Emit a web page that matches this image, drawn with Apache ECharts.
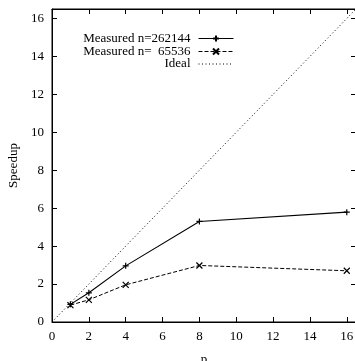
<!DOCTYPE html>
<html>
<head>
<meta charset="utf-8">
<script src="https://cdn.jsdelivr.net/npm/echarts@6/dist/echarts.min.js"></script>
<style>
html,body{margin:0;padding:0;background:#fff;}
#chart{width:355px;height:361px;}
</style>
</head>
<body>
<div id="chart"></div>
<script>
const pValues = [1, 2, 4, 8, 16];
const speedupLarge = [0.93, 1.54, 2.96, 5.3, 5.79];
const speedupSmall = [0.89, 1.17, 1.96, 2.98, 2.7];
const idealP = [0, 17];
const idealSpeedup = [0, 17];
const seriesNames = ['Measured n=262144', 'Measured n=  65536', 'Ideal'];
const xAxisTitle = 'p';
const yAxisTitle = 'Speedup';

const FONT = '"Liberation Serif", "Times New Roman", serif';
const zip = (xs, ys) => xs.map((x, i) => [x, ys[i]]);
const evenLabel = v => (Math.abs(v % 2) < 1e-9 ? String(v) : '');

const plusPath = 'path://M0,5L10,5M5,0L5,10';
const crossPath = 'path://M0,0L10,10M10,0L0,10';

const chart = echarts.init(document.getElementById('chart'), null, {renderer: 'canvas'});
const baseAxis = {
  type: 'value', min: 0, max: 16.5, interval: 2,
  axisLine: {show: true, onZero: false, lineStyle: {color: '#000', width: 1}},
  axisTick: {show: true, inside: true, length: 5, lineStyle: {color: '#000'}},
  splitLine: {show: false}
};
const legendCommon = {
  orient: 'vertical', align: 'right', right: 121, padding: 0,
  itemWidth: 35, itemHeight: 7.5, itemGap: 0,
  textStyle: {fontFamily: FONT, fontSize: 13, color: '#000', padding: [0, 3, 0, 0]},
  lineStyle: {width: 1},
  inactiveColor: '#000', selectedMode: false
};
chart.setOption({
  animation: false,
  backgroundColor: '#fff',
  grid: {left: 52, width: 304, top: 9, height: 313, show: true, borderColor: '#000', borderWidth: 1,
         containLabel: false, outerBoundsMode: 'none'},
  legend: [
    Object.assign({}, legendCommon, {top: 32, data: [seriesNames[0]]}),
    Object.assign({}, legendCommon, {top: 45, data: [seriesNames[1]]}),
    Object.assign({}, legendCommon, {top: 57.5, data: [{name: seriesNames[2], itemStyle: {opacity: 0}}]})
  ],
  xAxis: [
    Object.assign({}, baseAxis, {
      position: 'bottom', name: xAxisTitle, nameLocation: 'middle', nameGap: 31,
      nameTextStyle: {fontFamily: FONT, fontSize: 13, color: '#000'},
      axisLabel: {fontFamily: FONT, fontSize: 13, color: '#000', margin: 8, formatter: evenLabel}
    }),
    Object.assign({}, baseAxis, {position: 'top', axisLabel: {show: false}})
  ],
  yAxis: [
    Object.assign({}, baseAxis, {
      position: 'left', name: yAxisTitle, nameLocation: 'middle', nameGap: 32,
      nameTextStyle: {fontFamily: FONT, fontSize: 13, color: '#000'},
      axisLabel: {fontFamily: FONT, fontSize: 13, color: '#000', margin: 8, formatter: evenLabel}
    }),
    Object.assign({}, baseAxis, {position: 'right', axisLabel: {show: false}})
  ],
  series: [
    {
      name: seriesNames[0], type: 'line', data: zip(pValues, speedupLarge),
      symbol: plusPath, symbolSize: 6,
      lineStyle: {color: '#000', width: 1.1, type: 'solid'},
      itemStyle: {color: '#000', borderColor: '#000', borderWidth: 1.2}
    },
    {
      name: seriesNames[1], type: 'line', data: zip(pValues, speedupSmall),
      symbol: crossPath, symbolSize: 6,
      lineStyle: {color: '#000', width: 1, type: [4, 2]},
      itemStyle: {color: '#000', borderColor: '#000', borderWidth: 1.2}
    },
    {
      name: seriesNames[2], type: 'line', data: zip(idealP, idealSpeedup),
      symbol: 'none', clip: true,
      lineStyle: {color: '#000', width: 1, type: [1, 2.5]},
      itemStyle: {color: '#000'}
    }
  ]
});
</script>
</body>
</html>
